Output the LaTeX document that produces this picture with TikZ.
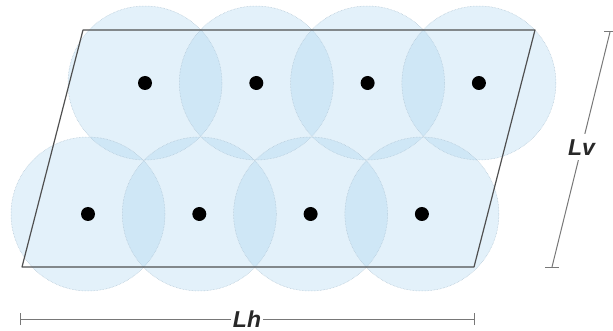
\documentclass[tikz,border=0pt]{standalone}
\usepackage{fontspec}
\setmainfont{Liberation Sans}
\definecolor{discfill}{RGB}{167,211,239}
\definecolor{discedge}{RGB}{175,195,210}
\definecolor{frameline}{RGB}{80,80,80}
\definecolor{dimline}{RGB}{120,120,120}
\definecolor{labeltext}{RGB}{40,40,40}
\begin{document}
\begin{tikzpicture}[x=1pt,y=-1pt,
  disc/.style={fill=discfill,fill opacity=0.32,draw=discedge,draw opacity=0.6,densely dotted,line width=0.5pt},
  site/.style={circle,fill=black,inner sep=0pt,minimum size=14pt},
  frame/.style={draw=frameline,line width=1.2pt,line join=round},
  dimension/.style={draw=dimline,line width=1pt},
  dimlabel/.style={fill=white,inner sep=2pt,text=labeltext,font=\fontsize{23}{23}\selectfont\bfseries\itshape}]
\useasboundingbox (0,0) rectangle (613,331);
% discs
\foreach \i in {0,1,2,3} {
  \fill[disc] (145+111.3*\i,83) circle (77);
  \fill[disc] (88+111.3*\i,214) circle (77);
}
\foreach \i in {0,1,2,3} {
  \draw[disc,fill=none] (145+111.3*\i,83) circle (77);
  \draw[disc,fill=none] (88+111.3*\i,214) circle (77);
}
% cell
\draw[frame] (83,30) -- (535,30) -- (474,267) -- (22,267) -- cycle;
% sites
\foreach \i in {0,1,2,3} {
  \node[site] (t\i) at (145+111.3*\i,83) {};
  \node[site] (b\i) at (88+111.3*\i,214) {};
}
% dimensions
\coordinate (lhl) at (20,319);
\coordinate (lhr) at (474,319);
\draw[dimension] (lhl) -- node[dimlabel,pos=0.5] (lh) {Lh} (lhr);
\draw[dimension] ([yshift=-6]lhl) -- ([yshift=6]lhl);
\draw[dimension] ([yshift=-6]lhr) -- ([yshift=6]lhr);
\coordinate (lvt) at (610,32);
\coordinate (lvb) at (552,267);
\draw[dimension] (lvt) -- node[dimlabel,pos=0.49,inner sep=5pt] (lv) {Lv} (lvb);
\draw[dimension] ([xshift=-6]lvt) -- ([xshift=4]lvt);
\draw[dimension] ([xshift=-7]lvb) -- ([xshift=7]lvb);
\end{tikzpicture}
\end{document}
